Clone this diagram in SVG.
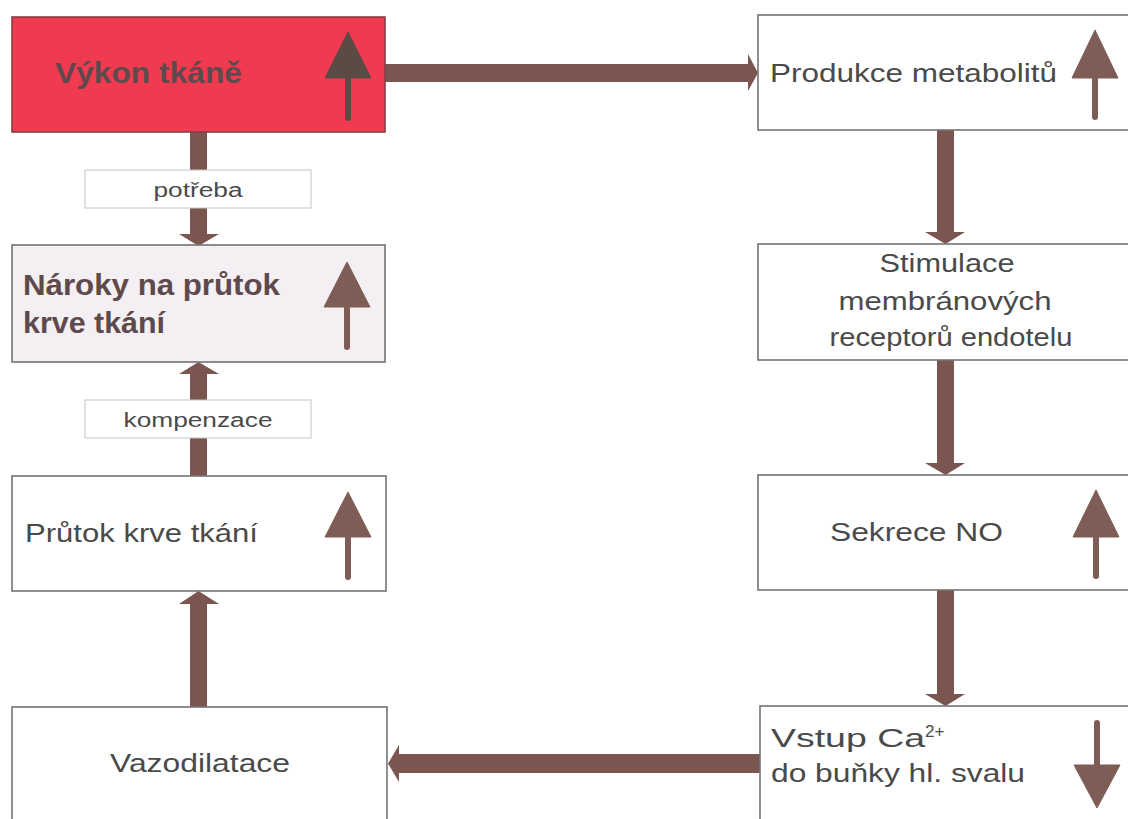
<svg xmlns="http://www.w3.org/2000/svg" width="1128" height="819" viewBox="0 0 1128 819">
  <style>
    .box { fill: #ffffff; stroke: #737373; stroke-width: 1.6; }
    .hot { fill: #f03a50; stroke: #8a3f44; stroke-width: 1.6; }
    .soft { fill: #f4eff2; stroke: #737373; stroke-width: 1.6; }
    .tag { fill: #ffffff; stroke: #c4c4c4; stroke-width: 1; }
    .link { fill: #7b5651; }
    .ind { fill: #7f5d57; stroke: #7f5d57; }
    .ind-dark { fill: #5c4a44; stroke: #5c4a44; }
    .t { font-family: "Liberation Sans", Arial, sans-serif; font-size: 25px; fill: #4a4a4a; }
    .tb { font-family: "Liberation Sans", Arial, sans-serif; font-size: 30px; font-weight: bold; fill: #5e4a4d; }
    .ts { font-family: "Liberation Sans", Arial, sans-serif; font-size: 20px; fill: #4a4a4a; }
  </style>

  <!-- connectors -->
  <g id="connectors">
    <!-- Výkon tkáně -> Produkce metabolitů -->
    <rect class="link" x="385" y="64" width="364" height="18"/>
    <polygon class="link" points="748,54 758,73 748,91"/>
    <!-- Výkon tkáně -> Nároky (potřeba) -->
    <rect class="link" x="190" y="132" width="17" height="104"/>
    <polygon class="link" points="179,234 219,234 198.5,246"/>
    <!-- Průtok -> Nároky (kompenzace) -->
    <rect class="link" x="190" y="372" width="17" height="104"/>
    <polygon class="link" points="179,374 219,374 198.5,362"/>
    <!-- Vazodilatace -> Průtok -->
    <rect class="link" x="190" y="602" width="17" height="105"/>
    <polygon class="link" points="179,604 219,604 198.5,591"/>
    <!-- right column, downwards -->
    <rect class="link" x="937" y="130" width="17" height="104"/>
    <polygon class="link" points="925,232 965,232 945.5,244"/>
    <rect class="link" x="937" y="360" width="17" height="104"/>
    <polygon class="link" points="925,463 965,463 945.5,475"/>
    <rect class="link" x="937" y="590" width="17" height="106"/>
    <polygon class="link" points="925,694 965,694 945.5,706"/>
    <!-- Vstup Ca -> Vazodilatace -->
    <rect class="link" x="398" y="754" width="362" height="19"/>
    <polygon class="link" points="399,745 388,763.5 399,782"/>
  </g>

  <!-- edge labels -->
  <g id="label-potreba">
    <rect class="tag" x="85" y="170" width="226" height="38"/>
    <text class="ts" x="198" y="197" text-anchor="middle" textLength="89" lengthAdjust="spacingAndGlyphs">potřeba</text>
  </g>
  <g id="label-kompenzace">
    <rect class="tag" x="85" y="400" width="226" height="38"/>
    <text class="ts" x="198" y="427" text-anchor="middle" textLength="149" lengthAdjust="spacingAndGlyphs">kompenzace</text>
  </g>

  <!-- left column -->
  <g id="vykon-tkane">
    <rect class="hot" x="12" y="17" width="373" height="115"/>
    <text class="tb" x="55" y="83" font-size="32" fill="#5a4646" textLength="187" lengthAdjust="spacingAndGlyphs">Výkon tkáně</text>
    <g class="ind-dark">
      <polygon points="348,32 371,78 325,78"/>
      <line x1="348" y1="76" x2="348" y2="118" stroke-width="6" stroke-linecap="round"/>
    </g>
  </g>

  <g id="naroky">
    <rect class="soft" x="12" y="245" width="373" height="117"/>
    <text class="tb" x="23" y="295" textLength="257" lengthAdjust="spacingAndGlyphs">Nároky na průtok</text>
    <text class="tb" x="23" y="333" textLength="142" lengthAdjust="spacingAndGlyphs">krve tkání</text>
    <g class="ind">
      <polygon points="347,262 370,307 324,307"/>
      <line x1="347" y1="305" x2="347" y2="347" stroke-width="6" stroke-linecap="round"/>
    </g>
  </g>

  <g id="prutok">
    <rect class="box" x="12" y="476" width="374" height="115"/>
    <text class="t" x="25" y="542" textLength="233" lengthAdjust="spacingAndGlyphs">Průtok krve tkání</text>
    <g class="ind">
      <polygon points="348,492 371,537 325,537"/>
      <line x1="348" y1="535" x2="348" y2="577" stroke-width="6" stroke-linecap="round"/>
    </g>
  </g>

  <g id="vazodilatace">
    <rect class="box" x="12" y="707" width="375" height="118"/>
    <text class="t" x="110" y="772" textLength="180" lengthAdjust="spacingAndGlyphs">Vazodilatace</text>
  </g>

  <!-- right column -->
  <g id="produkce">
    <rect class="box" x="758" y="15" width="375" height="115"/>
    <text class="t" x="770" y="82" textLength="287" lengthAdjust="spacingAndGlyphs">Produkce metabolitů</text>
    <g class="ind">
      <polygon points="1095,30 1118,78 1072,78"/>
      <line x1="1095" y1="76" x2="1095" y2="117" stroke-width="6" stroke-linecap="round"/>
    </g>
  </g>

  <g id="stimulace">
    <rect class="box" x="758" y="244" width="375" height="116"/>
    <text class="t" x="947" y="272" text-anchor="middle" textLength="135" lengthAdjust="spacingAndGlyphs">Stimulace</text>
    <text class="t" x="945" y="310" text-anchor="middle" textLength="213" lengthAdjust="spacingAndGlyphs">membránových</text>
    <text class="t" x="951" y="346" text-anchor="middle" textLength="243" lengthAdjust="spacingAndGlyphs">receptorů endotelu</text>
  </g>

  <g id="sekrece">
    <rect class="box" x="758" y="475" width="375" height="115"/>
    <text class="t" x="830" y="541" textLength="173" lengthAdjust="spacingAndGlyphs">Sekrece NO</text>
    <g class="ind">
      <polygon points="1096,490 1119,537 1073,537"/>
      <line x1="1096" y1="535" x2="1096" y2="576" stroke-width="6" stroke-linecap="round"/>
    </g>
  </g>

  <g id="vstup-ca">
    <rect class="box" x="760" y="706" width="375" height="120"/>
    <text class="t" x="771" y="747"><tspan textLength="154" lengthAdjust="spacingAndGlyphs">Vstup Ca</tspan><tspan font-size="17" dy="-10">2+</tspan></text>
    <text class="t" x="771" y="782" textLength="254" lengthAdjust="spacingAndGlyphs">do buňky hl. svalu</text>
    <g class="ind">
      <line x1="1097" y1="723" x2="1097" y2="768" stroke-width="6" stroke-linecap="round"/>
      <polygon points="1074,765 1120,765 1097,808"/>
    </g>
  </g>
</svg>
